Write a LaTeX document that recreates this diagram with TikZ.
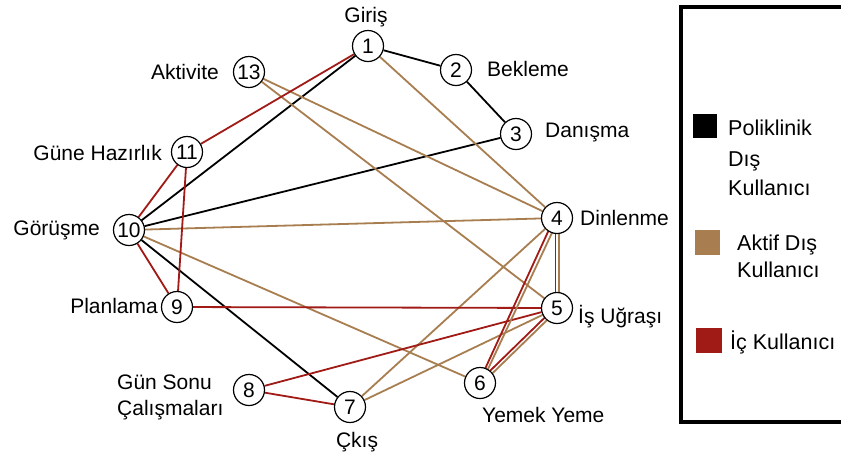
\documentclass[tikz,border=0pt]{standalone}
\usepackage{fontspec}
\setmainfont{Liberation Sans}
\usetikzlibrary{backgrounds}
\definecolor{tanc}{RGB}{168,126,80}
\definecolor{redc}{RGB}{160,26,22}
\begin{document}
\begin{tikzpicture}[x=1pt,y=-1pt,
  st/.style={circle,draw,line width=1.2pt,fill=white,minimum size=31pt,inner sep=0pt,font=\fontsize{21}{21}\selectfont},
  lab/.style={font=\fontsize{21}{25}\selectfont,inner sep=0pt},
  leg/.style={font=\fontsize{21.5}{25}\selectfont,inner sep=0pt,anchor=west},
  pk/.style={line width=1.8pt,black},
  ak/.style={line width=1.8pt,tanc},
  ic/.style={line width=1.8pt,redc}]
\useasboundingbox (0,0) rectangle (841,456);
\clip (0,0) rectangle (841,456);

% stations
\node[st] (n1)  at (368,46)  {1};
\node[st] (n2)  at (456,70)  {2};
\node[st] (n3)  at (516,134) {3};
\node[st] (n4)  at (557,218) {4};
\node[st] (n5)  at (557,308) {5};
\node[st] (n6)  at (480,383) {6};
\node[st] (n7)  at (350,407) {7};
\node[st] (n8)  at (249,390) {8};
\node[st] (n9)  at (177,307) {9};
\node[st] (n10) at (129,230) {10};
\node[st] (n11) at (187,152) {11};
\node[st] (n13) at (249,72)  {13};

% labels
\node[lab] (l1)  at (366,17) {Giriş};
\node[lab,anchor=east] (l13) at (219,72) {Aktivite};
\node[lab,anchor=west] (l2)  at (487,69) {Bekleme};
\node[lab,anchor=west] (l3)  at (545,132) {Danışma};
\node[lab,anchor=west] (l4)  at (580,218) {Dinlenme};
\node[lab,anchor=east] (l11) at (162,153) {Güne Hazırlık};
\node[lab,anchor=east] (l10) at (100,230) {Görüşme};
\node[lab,anchor=east] (l9)  at (158,306) {Planlama};
\node[lab,anchor=west,align=left] (l8) at (117,397) {Gün Sonu\\[1pt]Çalışmaları};
\node[lab,anchor=west] (l5)  at (578,317) {İş Uğraşı};
\node[lab,anchor=west] (l6)  at (482,415) {Yemek Yeme};
\node[lab] (l7)  at (357,442) {Çkış};

% connectors
\begin{pgfonlayer}{background}
  \fill[white] (0,0) rectangle (841,456);
  % Poliklinik Dis Kullanici
  \draw[pk] (n1) -- (n2);
  \draw[pk] (n2) -- (n3);
  \draw[pk] (n1) -- (n10);
  \draw[pk] (n3) -- (n10);
  \draw[pk] (n10) -- (n7);
  % Aktif Dis Kullanici
  \draw[ak] (n1) -- (n4);
  \draw[ak] (n13) -- (n4);
  \draw[ak] (n13) -- (n5);
  \draw[ak] (n10) -- (n4);
  \draw[ak] (n10) -- (n6);
  \draw[ak] (n7) -- (n4);
  \draw[ak] (n7) -- (n5);
  % Ic Kullanici
  \draw[ic] (n1) -- (n11);
  \draw[ic] (n11) -- (n10);
  \draw[ic] (n11) -- (n9);
  \draw[ic] (n10) -- (n9);
  \draw[ic] (n9) -- (n5);
  \draw[ic] (n8) -- (n5);
  \draw[ic] (n8) -- (n7);
  % paired connectors
  \draw[ic] ([shift={(-1.6,0)}]n4.center) -- ([shift={(-1.6,0)}]n5.center);
  \draw[ak] ([shift={(1.6,0)}]n4.center) -- ([shift={(1.6,0)}]n5.center);
  \draw[ic] ([shift={(-2.2,-1.0)}]n4.center) -- ([shift={(-1.2,-0.5)}]n6.center);
  \draw[ak] ([shift={(1.6,0.7)}]n4.center) -- ([shift={(1.2,0.5)}]n6.center);
  \draw[ic] ([shift={(-1.2,-1.2)}]n5.center) -- ([shift={(-1.2,-1.2)}]n6.center);
  \draw[ak] ([shift={(1.2,1.2)}]n5.center) -- ([shift={(1.2,1.2)}]n6.center);
\end{pgfonlayer}

% legend
\draw[line width=4pt] (681,7) rectangle (870,422);
\fill[black] (693,114) rectangle (717,138);
\fill[tanc] (695,230) rectangle (720,255);
\fill[redc] (696,328) rectangle (722,353);
\node[leg] (t1) at (728,128) {Poliklinik};
\node[leg] (t2) at (728,161) {Dış};
\node[leg] (t3) at (728,188) {Kullanıcı};
\node[leg] (t4) at (737,245) {Aktif Dış};
\node[leg] (t5) at (737,270) {Kullanıcı};
\node[leg] (t6) at (730,342) {İç Kullanıcı};
\end{tikzpicture}
\end{document}
